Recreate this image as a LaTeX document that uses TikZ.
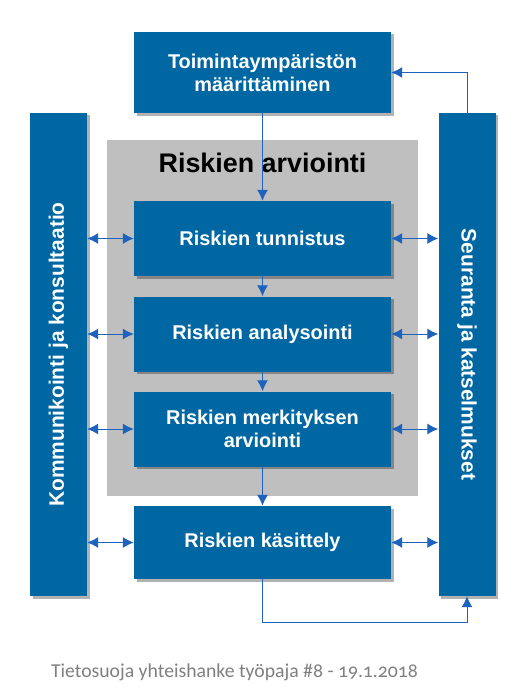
\documentclass[tikz,border=0pt]{standalone}
\usepackage{fontspec}
\setmainfont{Liberation Sans}
\newfontfamily\footfont[Numbers=OldStyle]{Carlito}
\usetikzlibrary{arrows.meta,positioning,shadows}
\definecolor{RiskBlue}{HTML}{0067A3}
\definecolor{RiskLink}{HTML}{1D62BC}
\definecolor{RiskGray}{HTML}{BFBFBF}
\definecolor{FootGray}{HTML}{7F7F7F}
\tikzset{>={Latex[length=11bp,width=11bp]},boxshadow/.style={drop shadow={shadow xshift=2.5bp,shadow yshift=-2.5bp,
 opacity=.3,fill=black}},stepbox/.style={fill=RiskBlue,text=white,boxshadow,
 font=\bfseries\fontsize{20}{23}\selectfont,minimum width=257bp,minimum height=75bp,
 inner sep=0pt,align=center},sidebar/.style={fill=RiskBlue,text=white,boxshadow,
 font=\bfseries\fontsize{21}{24}\selectfont,minimum width=57bp,minimum height=483bp,
 inner sep=0pt},link/.style={draw=RiskLink,line width=1bp,->}}
\begin{document}
\begin{tikzpicture}[x=1bp,y=-1bp]
\useasboundingbox (0,0) rectangle (529,690);
\fill[RiskGray] (107,140) rectangle (418,496);
\node[font=\bfseries\fontsize{27}{30}\selectfont] (title) at (262.5,163) {Riskien arviointi};
\node[stepbox,minimum height=81bp] (env) at (262.5,72.5) {Toimintaympäristön\\määrittäminen};
\node[stepbox] (ident) at (262.5,238.5) {Riskien tunnistus};
\node[stepbox] (anal) at (262.5,334) {Riskien analysointi};
\node[stepbox] (eval) at (262.5,429) {Riskien merkityksen\\arviointi};
\node[stepbox,minimum height=73bp] (treat) at (262.5,542.5) {Riskien käsittely};
\node[sidebar] (comm) at (58.5,354.5) {\rotatebox{90}{Kommunikointi ja konsultaatio}};
\node[sidebar] (mon) at (467,354.5) {\rotatebox{-90}{Seuranta ja katselmukset}};
\draw[link] (env) -- (ident);
\draw[link] (ident) -- (anal);
\draw[link] (anal) -- (eval);
\draw[link] (eval) -- (treat);
\foreach \s in {ident,anal,eval,treat}
 {\draw[link,<->] (\s.west -| comm.east) -- (\s.west);
  \draw[link,<->] (\s.east) -- (\s.east -| mon.west);}
\draw[link] (treat.south) -- ++(0,43) -| (mon.south);
\draw[link] (mon.north) |- (env.east);
\node[font=\footfont\fontsize{19.8}{22}\selectfont,text=FootGray] (foot) at (234.5,672)
 {Tietosuoja yhteishanke työpaja \#8 - 19.1.2018};
\end{tikzpicture}
\end{document}
